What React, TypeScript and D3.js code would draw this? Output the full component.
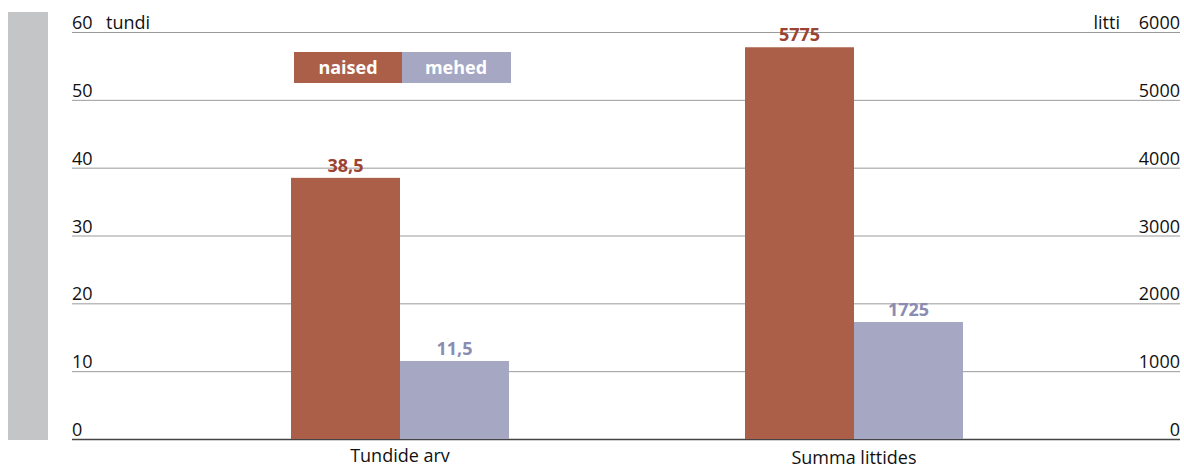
import React, { useRef, useEffect } from "react";
import * as d3 from "d3";

const categories = ["Tundide arv", "Summa littides"];
const series = ["naised", "mehed"];
const naised = [38.5, 5775];
const mehed = [11.5, 1725];
const valueLabels = [["38,5", "5775"], ["11,5", "1725"]];
const leftTicks = [0, 10, 20, 30, 40, 50, 60];
const rightTicks = [0, 1000, 2000, 3000, 4000, 5000, 6000];

const colors = ["#ab5f48", "#a6a7c3"];
const labelColors = ["#9c4230", "#8b8cb2"];

function App() {
  const svgRef = useRef<SVGSVGElement>(null);

  useEffect(() => {
    const width = 1184;
    const height = 470;
    const font = "'Open Sans', 'DejaVu Sans', sans-serif";

    const svg = d3.select(svgRef.current).attr("width", width).attr("height", height);
    svg.selectAll("*").remove();

    const yLeft = d3.scaleLinear().domain([0, 60]).range([439, 32]);
    const yRight = d3.scaleLinear().domain([0, 6000]).range([439, 32]);

    const x = d3.scaleBand().domain(categories).range([173, 1081]);
    const barW = 109;
    const xSub = d3.scaleBand().domain(series).range([-barW, barW]);

    // grey strip on the left
    svg.append("rect")
      .attr("x", 8).attr("y", 12).attr("width", 40).attr("height", 428)
      .attr("fill", "#c4c5c7");

    // gridlines
    svg.append("g")
      .selectAll("line")
      .data(leftTicks)
      .enter()
      .append("line")
      .attr("x1", 72)
      .attr("x2", 1180)
      .attr("y1", d => yLeft(d) + 0.5)
      .attr("y2", d => yLeft(d) + 0.5)
      .attr("stroke", d => (d === 0 ? "#444" : "#9a9a9a"))
      .attr("stroke-width", d => (d === 0 ? 1.5 : 1));

    // left tick labels
    svg.append("g")
      .selectAll("text")
      .data(leftTicks)
      .enter()
      .append("text")
      .attr("x", 72)
      .attr("y", d => yLeft(d) - 3)
      .attr("font-family", font)
      .attr("font-size", 18)
      .attr("fill", "#111")
      .text(d => d);

    // right tick labels
    svg.append("g")
      .selectAll("text")
      .data(rightTicks)
      .enter()
      .append("text")
      .attr("x", 1180)
      .attr("y", d => yRight(d) - 3)
      .attr("text-anchor", "end")
      .attr("font-family", font)
      .attr("font-size", 18)
      .attr("fill", "#111")
      .text(d => d);

    // axis units
    svg.append("text")
      .attr("x", 106).attr("y", yLeft(60) - 3)
      .attr("font-family", font).attr("font-size", 18).attr("fill", "#111")
      .text("tundi");
    svg.append("text")
      .attr("x", 1120).attr("y", yRight(6000) - 3)
      .attr("text-anchor", "end")
      .attr("font-family", font).attr("font-size", 18).attr("fill", "#111")
      .text("litti");

    // bars
    const seriesValues = [naised, mehed];
    const scales = [yLeft, yRight];
    series.forEach((s, si) => {
      const g = svg.append("g");
      const rows = categories.map((c, ci) => ({ c, ci, v: seriesValues[si][ci] }));
      g.selectAll("rect")
        .data(rows)
        .enter()
        .append("rect")
        .attr("x", d => x(d.c)! + x.bandwidth() / 2 + xSub(s)!)
        .attr("y", d => scales[d.ci](d.v))
        .attr("width", xSub.bandwidth())
        .attr("height", d => 439 - scales[d.ci](d.v))
        .attr("fill", colors[si]);

      g.selectAll("text")
        .data(rows)
        .enter()
        .append("text")
        .attr("x", d => x(d.c)! + x.bandwidth() / 2 + xSub(s)! + xSub.bandwidth() / 2)
        .attr("y", d => scales[d.ci](d.v) - 6)
        .attr("text-anchor", "middle")
        .attr("font-family", font)
        .attr("font-size", 18)
        .attr("font-weight", "bold")
        .attr("fill", labelColors[si])
        .text(d => valueLabels[si][d.ci]);
    });

    // category labels
    svg.append("g")
      .selectAll("text")
      .data(categories)
      .enter()
      .append("text")
      .attr("x", d => x(d)! + x.bandwidth() / 2)
      .attr("y", (d, i) => (i === 0 ? 462 : 464))
      .attr("text-anchor", "middle")
      .attr("font-family", font)
      .attr("font-size", 18)
      .attr("fill", "#111")
      .text(d => d);

    // legend
    const legend = svg.append("g").attr("transform", "translate(294,52)");
    series.forEach((s, i) => {
      legend.append("rect")
        .attr("x", i * 108).attr("y", 0).attr("width", 109).attr("height", 31)
        .attr("fill", colors[i]);
      legend.append("text")
        .attr("x", i * 108 + 54).attr("y", 22)
        .attr("text-anchor", "middle")
        .attr("font-family", font).attr("font-size", 18).attr("font-weight", "bold")
        .attr("fill", "#fff")
        .text(s);
    });
  }, []);

  return <svg ref={svgRef} style={{ position: "absolute", left: 0, top: 0 }}></svg>;
}

export default App;
